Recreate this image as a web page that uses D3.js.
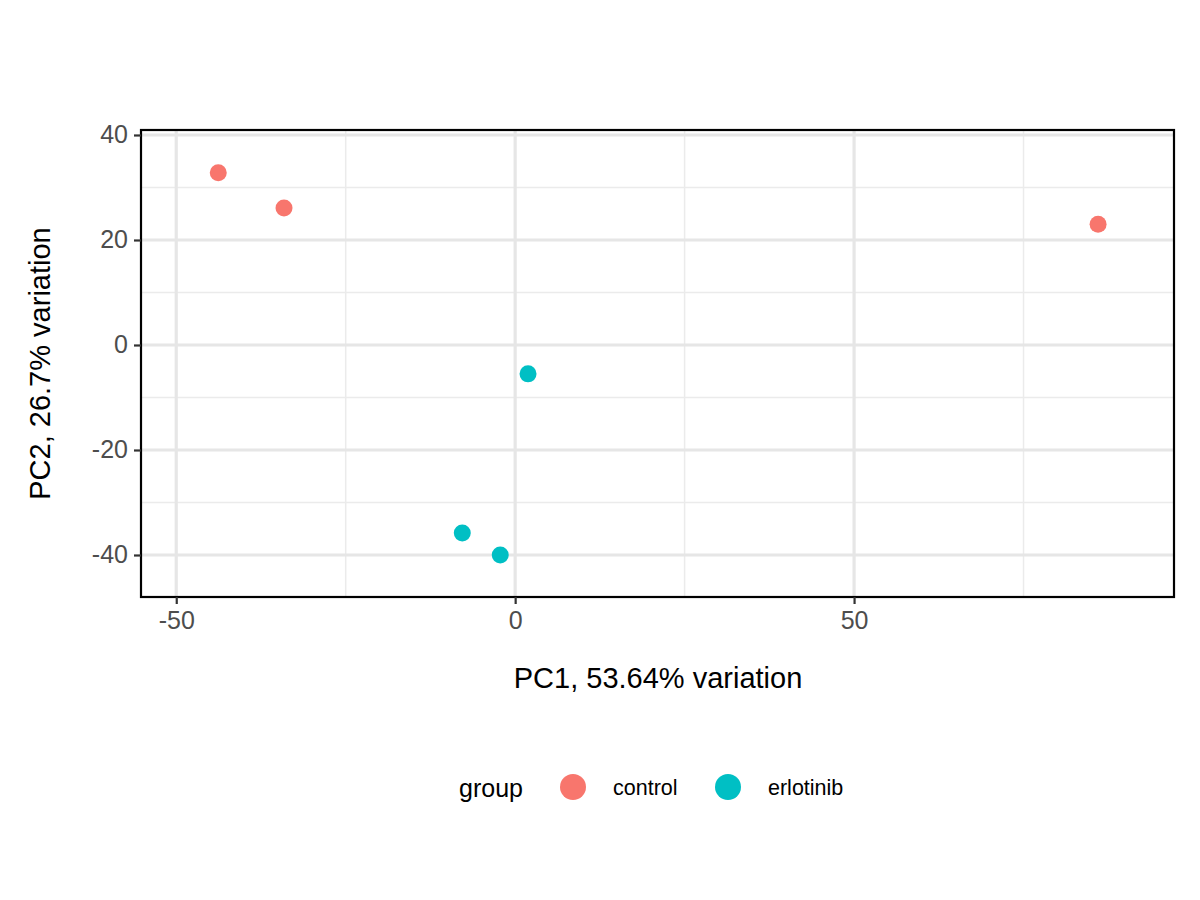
<!DOCTYPE html>
<html><head><meta charset="utf-8">
<script src="https://cdn.jsdelivr.net/npm/d3@7"></script>
<style>body{margin:0;background:#fff}text{font-family:"Liberation Sans",Arial,sans-serif}</style>
</head><body><svg id="c" width="1200" height="900"></svg>
<script>
const groups=["control","erlotinib"];
const colors=["#F8766D","#00BFC4"];
const pc1=[-43.8,-34.1,86.0,1.9,-7.8,-2.2];
const pc2=[32.8,26.1,23.0,-5.5,-35.8,-40.0];
const grp=["control","control","control","erlotinib","erlotinib","erlotinib"];
const xTicks=[-50,0,50], yTicks=[40,20,0,-20,-40];
const xMinor=[-25,25,75], yMinor=[30,10,-10,-30];

const svg=d3.select("#c");
const L=141,R=1174,T=130,B=597;
const x=d3.scaleLinear().domain([-55.2,97.2]).range([L,R]);
const y=d3.scaleLinear().domain([40.95,-48]).range([T,B]);
const col=d3.scaleOrdinal().domain(groups).range(colors);
const g=svg.append("g");
g.selectAll(".mx").data(xMinor).join("line").attr("x1",d=>x(d)).attr("x2",d=>x(d)).attr("y1",T).attr("y2",B).attr("stroke","#ebebeb").attr("stroke-width",1.5);
g.selectAll(".my").data(yMinor).join("line").attr("y1",d=>y(d)).attr("y2",d=>y(d)).attr("x1",L).attr("x2",R).attr("stroke","#ebebeb").attr("stroke-width",1.5);
g.selectAll(".Mx").data(xTicks).join("line").attr("x1",d=>x(d)).attr("x2",d=>x(d)).attr("y1",T).attr("y2",B).attr("stroke","#e6e6e6").attr("stroke-width",3.2);
g.selectAll(".My").data(yTicks).join("line").attr("y1",d=>y(d)).attr("y2",d=>y(d)).attr("x1",L).attr("x2",R).attr("stroke","#e6e6e6").attr("stroke-width",3.2);
g.selectAll("circle").data(pc1).join("circle").attr("cx",d=>x(d)).attr("cy",(d,i)=>y(pc2[i])).attr("r",8.5).attr("fill",(d,i)=>col(grp[i]));
g.append("rect").attr("x",L).attr("y",T).attr("width",R-L).attr("height",B-T).attr("fill","none").attr("stroke","#000").attr("stroke-width",2.2);
const fmt=d=>String(d);
const xa=svg.append("g").attr("transform",`translate(0,${B})`).call(d3.axisBottom(x).tickValues(xTicks).tickFormat(fmt).tickSize(7).tickPadding(5));
const ya=svg.append("g").attr("transform",`translate(${L},0)`).call(d3.axisLeft(y).tickValues(yTicks).tickFormat(fmt).tickSize(7).tickPadding(6));
[xa,ya].forEach(a=>{a.select(".domain").remove();a.selectAll("line").attr("stroke","#333").attr("stroke-width",2.2);a.selectAll("text").attr("font-size",25).attr("fill","#4d4d4d").style("font-family","Liberation Sans, Arial, sans-serif");});
xa.selectAll("text").attr("dy","0.78em");
svg.append("text").attr("x",658).attr("y",688).attr("text-anchor","middle").attr("font-size",29).text("PC1, 53.64% variation");
svg.append("text").attr("transform",`translate(50,${(T+B)/2}) rotate(-90)`).attr("text-anchor","middle").attr("font-size",29).text("PC2, 26.7% variation");
const lg=svg.append("g");
lg.append("text").attr("x",459).attr("y",797).attr("font-size",25).text("group");
const lx=[573,728];
groups.forEach((gname,i)=>{
 lg.append("circle").attr("cx",lx[i]).attr("cy",787).attr("r",13).attr("fill",colors[i]);
 lg.append("text").attr("x",lx[i]+40).attr("y",795).attr("font-size",21.5).text(gname);
});
</script></body></html>
